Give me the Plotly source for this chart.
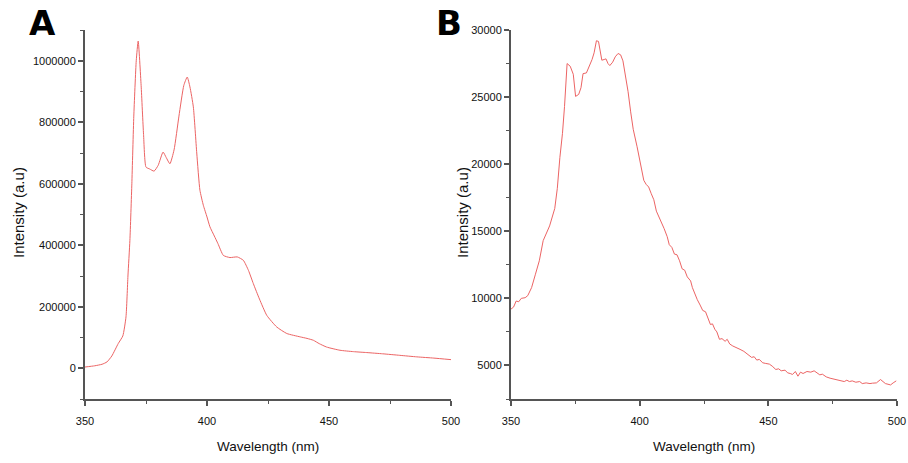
import plotly.graph_objects as go

# panel A - emission spectrum
wl_a = [350, 354, 357, 359, 361, 363.6, 365.5, 366.8, 367.6, 368.4, 369.2, 370, 371, 371.8,
        373, 374, 375, 376.5, 378.3, 380, 382, 383.3, 384.8, 386.5, 388.5, 390.5, 391.9,
        393, 394.4, 395.8, 397.1, 398.5, 400, 401.2, 403, 404.5, 406.7, 409.4, 412.4,
        414.9, 417, 419, 421.5, 424.5, 428.6, 432.7, 438.2, 441, 443.6, 446, 449, 454.5,
        460, 465.5, 472, 479, 486, 493, 500]
int_a = [4000, 8000, 13000, 20500, 40000, 80000, 105000, 167000, 300000, 416000, 600000,
         820000, 1000000, 1064000, 920000, 760000, 654000, 648000, 641000, 660000, 703000,
         685000, 665000, 710000, 820000, 920000, 947000, 915000, 850000, 700000, 579000,
         530000, 492000, 460000, 430000, 405000, 367000, 360000, 362000, 351000, 318000,
         275000, 225000, 172000, 134000, 113000, 102000, 97000, 91000, 80000, 69000,
         58500, 54000, 51000, 47000, 42000, 37000, 33000, 28000]

# panel B - emission spectrum
wl_b = [350, 351, 352, 353, 354, 355.5, 356.5, 358, 359.5, 361, 362.5, 363.5, 365, 367, 368,
        369, 370, 370.8, 371.8, 373, 374.2, 375.1, 376.3, 377.2, 378, 379.3, 380.5, 381.5,
        382.3, 383.2, 384, 384.7, 385.3, 386.2, 386.9, 387.7, 388.4, 389.5, 390.5, 391.6,
        392.6, 393.5, 394.5, 395.5, 396.5, 397.5, 399, 400.5, 401.6, 402.5, 403.5, 404.5,
        405.5, 406.5, 408, 409.5, 410.7, 411.5, 412.5, 413.5, 414.5, 415.5, 416.5, 417.5,
        418.5, 419.8, 420.5, 421.5, 422.4, 423.5, 424.5, 425.6, 426.5, 427.5, 428.3, 429.2,
        430, 431, 432, 433.2, 434, 435, 436.2, 437.5, 439, 440.5, 442, 443.5, 444.5, 445.5,
        446.5, 447.8, 449, 450.4, 451.5, 452.9, 454, 455, 456.5, 457.5, 458.5, 459.4, 460.5,
        461.5, 462.5, 463.5, 465, 466.5, 467.8, 469, 470, 471, 472.5, 474, 475, 476.5, 478,
        479.5, 480.5, 481.5, 482.6, 484, 485.5, 486.5, 488, 489.5, 490.5, 492, 493.6, 494.5,
        495.5, 496.5, 497.5, 498.5, 499.7]
int_b = [9200, 9350, 9800, 9750, 10000, 10050, 10200, 10800, 11800, 12800, 14300, 14700,
         15400, 16700, 18200, 20500, 22300, 24300, 27500, 27300, 26700, 25050, 25200, 25700,
         26750, 26800, 27300, 27800, 28300, 29200, 29150, 28500, 27750, 27800, 27850, 27500,
         27350, 27600, 28000, 28250, 28150, 27700, 26700, 25400, 23900, 22600, 21300, 19900,
         18800, 18500, 18300, 17800, 17350, 16500, 15900, 15200, 14600, 14000, 13800, 13300,
         13250, 12800, 12200, 12100, 11600, 11300, 10800, 10300, 9900, 9500, 9100, 9000,
         8500, 8050, 8100, 7700, 7500, 6950, 7000, 6800, 6950, 6600, 6450, 6350, 6200, 6050,
         5800, 5600, 5650, 5400, 5450, 5200, 5150, 5100, 4950, 4700, 4750, 4600, 4650, 4450,
         4400, 4330, 4550, 4200, 4500, 4400, 4550, 4500, 4600, 4450, 4300, 4350, 4150, 4050,
         4000, 3950, 3850, 3800, 3900, 3800, 3850, 3750, 3800, 3650, 3700, 3650, 3680, 3700,
         3950, 3800, 3650, 3600, 3550, 3700, 3850]

line_col = '#ec6464'
axis_col = '#555555'
fam = 'Liberation Sans Narrow, Arial Narrow, Liberation Sans, Arial'
tick_font = dict(family=fam, size=11, color='#111111')
xtitle_font = dict(family=fam, size=13.5, color='#111111')
ytitle_font = dict(family=fam, size=15, color='#111111')

fig = go.Figure()
fig.add_trace(go.Scatter(x=wl_a, y=int_a, mode='lines', line=dict(color=line_col, width=1, shape='spline', smoothing=0.5),
                         xaxis='x', yaxis='y', showlegend=False))
fig.add_trace(go.Scatter(x=wl_b, y=int_b, mode='lines', line=dict(color=line_col, width=1),
                         xaxis='x2', yaxis='y2', showlegend=False))


def axis_style(**kw):
    d = dict(showline=True, linecolor=axis_col, linewidth=2, ticks='outside', ticklen=5, tickwidth=1.5,
             tickcolor=axis_col, showgrid=False, zeroline=False, tickfont=tick_font, mirror=False,
             automargin=False,
             minor=dict(ticks='outside', ticklen=3, tickwidth=1.2, tickcolor=axis_col, showgrid=False))
    d.update(kw)
    return d


xdom_a = [85 / 908, 451 / 908]
xdom_b = [511 / 908, 897 / 908]
ydom = [1 - 399 / 463, 1 - 30 / 463]

fig.update_layout(
    width=908, height=463,
    margin=dict(l=0, r=0, t=0, b=0, autoexpand=False),
    paper_bgcolor='white', plot_bgcolor='white',
    xaxis=axis_style(domain=xdom_a, anchor='y', range=[350, 500], tick0=350, dtick=50,
                     minor_dtick=25, ticklabelstandoff=6),
    yaxis=axis_style(domain=ydom, anchor='x', range=[-100000, 1100000], tickvals=[0, 200000, 400000, 600000, 800000, 1000000],
                     ticktext=['0', '200000', '400000', '600000', '800000', '1000000'], minor_dtick=100000, minor_tick0=0),
    xaxis2=axis_style(domain=xdom_b, anchor='y2', range=[350, 500], tick0=350, dtick=50,
                      minor_dtick=25, ticklabelstandoff=6),
    yaxis2=axis_style(domain=ydom, anchor='x2', range=[2500, 30000], tick0=0, dtick=5000,
                      minor_dtick=2500, minor_tick0=0, tickformat='d'),
)


def note(text, x, y, font, angle=0):
    fig.add_annotation(text=text, x=x / 908, y=1 - y / 463, xref='paper', yref='paper',
                       xanchor='center', yanchor='middle', showarrow=False, textangle=angle, font=font)


letter_font = dict(family='DejaVu Sans', size=34, color='black')
note('<b>A</b>', 42, 23, letter_font)
note('<b>B</b>', 449, 23, letter_font)

# axis titles
for xc in [268, 704]:
    note('Wavelength (nm)', xc, 446, xtitle_font)
for xc in [19, 463]:
    note('Intensity (a.u)', xc, 213, ytitle_font, angle=-90)

# page has a default body margin; drop it so the figure fills the window
fig.write_html("out.html", config={'displayModeBar': False},
               post_script="document.body.style.margin='0';document.body.style.overflow='hidden';")
